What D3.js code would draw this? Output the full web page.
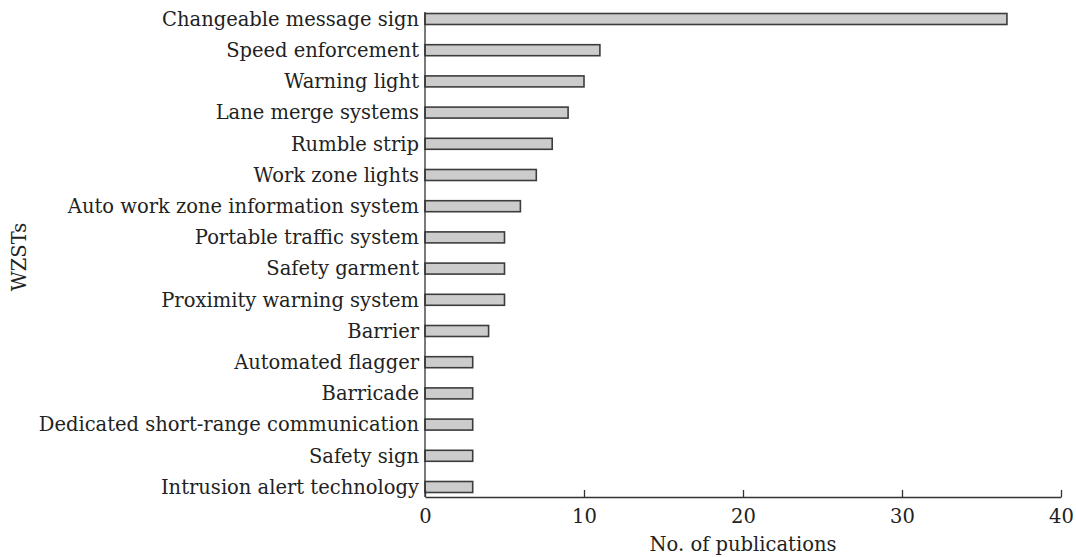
<!DOCTYPE html>
<html><head><meta charset="utf-8">
<script src="https://cdn.jsdelivr.net/npm/d3@7"></script>
<style>body{margin:0;background:#fff}svg{display:block}text{font-family:"DejaVu Serif",serif;fill:#222}</style>
</head><body>
<svg id="chart" width="1076" height="557"></svg>
<script>
const categories = ["Changeable message sign","Speed enforcement","Warning light","Lane merge systems","Rumble strip","Work zone lights","Auto work zone information system","Portable traffic system","Safety garment","Proximity warning system","Barrier","Automated flagger","Barricade","Dedicated short-range communication","Safety sign","Intrusion alert technology"];
const values = [36.6,11,10,9,8,7,6,5,5,5,4,3,3,3,3,3];
const xTicks = [0,10,20,30,40];

const svg = d3.select("#chart");
const x0 = 425, x1 = 1061, axisY = 497, fs = 19.5;
const x = d3.scaleLinear().domain([0,40]).range([x0,x1]);
const y = d3.scaleBand().domain(categories).range([3.4,502.6]).padding(0);
const barH = 11;

svg.selectAll("rect.bar").data(categories).enter().append("rect")
  .attr("x", x(0)).attr("y", d => y(d)+y.bandwidth()/2-barH/2)
  .attr("width", (d,i) => x(values[i])-x(0)).attr("height", barH)
  .attr("fill","#cccccc").attr("stroke","#3c3c3c").attr("stroke-width",1.6);

// y axis line
svg.append("line").attr("x1",x0).attr("x2",x0).attr("y1",12).attr("y2",axisY)
  .attr("stroke","#333").attr("stroke-width",1.3);
// y labels
svg.selectAll("text.ylab").data(categories).enter().append("text")
  .attr("x", x0-6).attr("y", d => y(d)+y.bandwidth()/2).attr("dy","0.35em")
  .attr("text-anchor","end").attr("font-size",fs).text(d=>d);

// x axis
const xAxis = svg.append("g").attr("transform",`translate(0,${axisY})`)
  .call(d3.axisBottom(x).tickValues(xTicks).tickSize(-7).tickPadding(12).tickSizeOuter(0));
xAxis.select(".domain").attr("stroke","#333").attr("stroke-width",1.3);
xAxis.selectAll(".tick line").attr("stroke","#333").attr("stroke-width",1.3);
xAxis.selectAll(".tick text").attr("font-size",fs).attr("font-family","DejaVu Serif").attr("fill","#222");

svg.append("text").attr("x",743).attr("y",551).attr("text-anchor","middle")
  .attr("font-size",fs).text("No. of publications");
svg.append("text").attr("transform","translate(26,257) rotate(-90)").attr("text-anchor","middle")
  .attr("font-size",fs).text("WZSTs");
</script>
</body></html>
